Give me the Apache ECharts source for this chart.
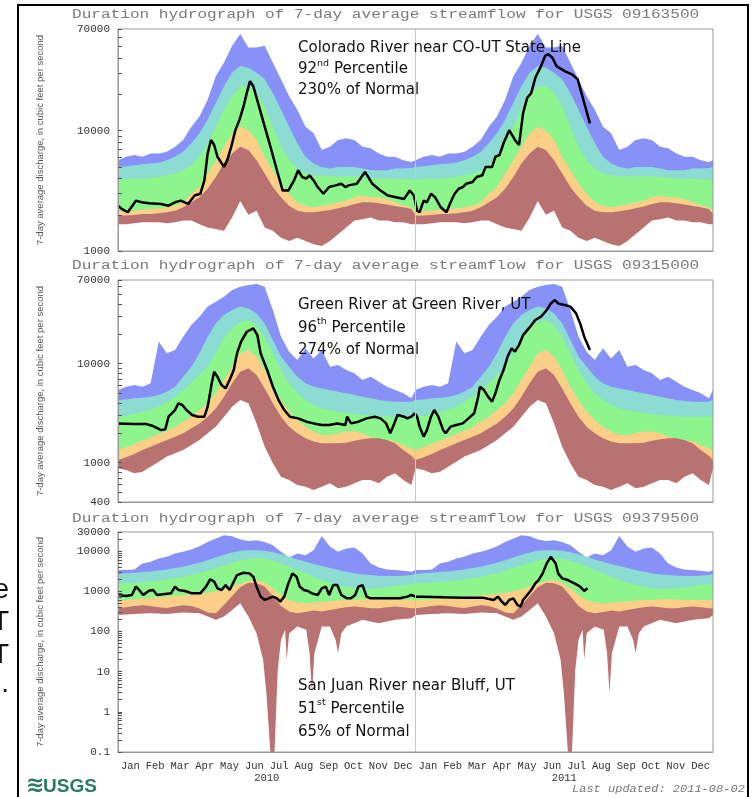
<!DOCTYPE html>
<html>
<head>
<meta charset="utf-8">
<script src="https://cdn.jsdelivr.net/npm/echarts@6/dist/echarts.min.js"></script>
<style>
  html, body { margin: 0; padding: 0; background: #fff; }
  #chart { width: 754px; height: 797px; }
</style>
</head>
<body>
<div id="chart"></div>
<script>
// ---- x axis ----
const months = ["Jan", "Feb", "Mar", "Apr", "May", "Jun", "Jul", "Aug", "Sep", "Oct", "Nov", "Dec"];
const monthLabels = months.concat(months);
const yearLabels = ["2010", "2011"];

// day of year of the daily statistics (they are the same for 2010 and 2011)
const statDays = [0, 10, 20, 30, 40, 50, 60, 70, 80, 90, 100, 110, 120, 130, 140, 150, 160, 170, 180, 190,
  200, 210, 220, 230, 240, 250, 260, 270, 280, 290, 300, 310, 320, 330, 340, 350, 360, 365];

// ---- Colorado River near CO-UT State Line (cfs) ----
const coloradoLabels = [1000, 10000, 70000];
const coloradoMax = [5690, 6070, 6270, 6070, 6470, 6470, 6680, 7360, 8370, 10800, 13100, 18100, 28400, 36700, 50700, 63500, 49100, 49100, 50700, 36700,
  26700, 19300, 14900, 10800, 9500, 6900, 7360, 8370, 8650, 8370, 7360, 7130, 6470, 6070, 6070, 5690, 5500, 5690];
const coloradoP90 = [5000, 5060, 5160, 5260, 5330, 5410, 5690, 6070, 6680, 7850, 9500, 12300, 17000, 23400, 30300, 34400, 33400, 30300, 26700, 20600,
  14900, 10800, 7850, 6070, 5330, 5000, 4840, 5000, 5000, 5000, 4840, 4690, 4690, 4690, 4840, 4840, 4900, 5000];
const coloradoP75 = [3910, 3970, 3990, 3990, 4070, 4120, 4260, 4400, 4690, 5160, 6070, 7850, 10800, 14900, 19300, 23400, 23400, 20600, 15900, 10800,
  7360, 5690, 4840, 4400, 4260, 4180, 4180, 4180, 4180, 4180, 4120, 4070, 4020, 3990, 3970, 3940, 3910, 3910];
const coloradoP25 = [2160, 2160, 2160, 2210, 2230, 2270, 2310, 2380, 2540, 2990, 3400, 4400, 5690, 7360, 9500, 10800, 10150, 8370, 6070, 4690,
  3620, 2990, 2540, 2380, 2310, 2380, 2460, 2540, 2620, 2800, 2890, 2800, 2800, 2710, 2540, 2400, 2300, 2200];
const coloradoP10 = [1970, 1970, 1990, 2030, 2030, 2060, 2100, 2160, 2310, 2540, 2800, 3290, 4120, 5330, 6470, 7360, 6900, 5690, 4400, 3400,
  2800, 2380, 2160, 2100, 2100, 2140, 2190, 2270, 2340, 2460, 2540, 2540, 2490, 2430, 2370, 2310, 2230, 2030];
const coloradoMin = [1670, 1670, 1700, 1730, 1730, 1730, 1700, 1730, 1790, 1790, 1670, 1570, 1520, 1470, 1900, 2600, 2000, 2160, 1570, 1470,
  1290, 1210, 1290, 1210, 1140, 1100, 1210, 1380, 1570, 1790, 1840, 1900, 1790, 1790, 1730, 1730, 1670, 1670];
// days since 2010-01-01
const coloradoDays = [0, 5, 12, 22, 29, 38, 53, 62, 70, 77, 86, 94, 101, 106, 110, 114, 118, 122, 130, 134,
  139, 144, 149, 154, 158, 162, 166, 173, 180, 187, 195, 202, 209, 216, 221, 226, 231, 235, 240, 245,
  252, 259, 267, 274, 279, 283, 293, 303, 307, 312, 322, 331, 341, 351, 358, 363, 367, 370, 375, 379,
  384, 389, 396, 403, 408, 413, 418, 423, 427, 435, 440, 447, 451, 459, 463, 468, 473, 480, 487, 492,
  497, 502, 507, 512, 519, 524, 528, 533, 538, 548, 557, 564, 572, 579];
const coloradoFlow = [2380, 2230, 2100, 2620, 2540, 2490, 2460, 2380, 2540, 2620, 2460, 2890, 2990, 3860, 6470, 8370, 7600, 6070, 5000, 5690,
  7360, 10100, 12300, 15900, 20600, 25800, 23400, 15900, 10800, 7360, 4690, 3180, 3180, 3860, 4690, 4120, 3990, 4260, 3860, 3400,
  2990, 3400, 3510, 3620, 3400, 3510, 3620, 4540, 4120, 3620, 3180, 2890, 2800, 2710, 3180, 2890, 2160, 2100, 2620, 2540,
  2990, 2800, 2310, 2100, 2540, 2990, 3290, 3400, 3620, 3740, 4120, 4260, 5000, 5000, 6070, 6270, 7850, 10100, 8370, 7600,
  14000, 18700, 20600, 27500, 34400, 41800, 43200, 40400, 34400, 31300, 29400, 26700, 17000, 11500];

// ---- Green River at Green River, UT (cfs) ----
const greenLabels = [400, 1000, 10000, 70000];
const greenMax = [5410, 5850, 6080, 5850, 6320, 16700, 12700, 13700, 18700, 24500, 29800, 37700, 42300, 47500, 55400, 59900, 62300, 63800, 59900, 34800,
  18700, 13200, 10900, 14300, 11300, 13700, 9310, 9680, 8620, 7980, 6840, 7380, 6580, 5850, 5410, 5010, 4460, 5410];
const greenP90 = [4290, 4350, 4460, 4530, 4640, 4820, 5210, 5850, 7380, 9310, 12700, 18700, 25500, 31000, 34800, 37700, 36200, 32200, 25500, 17300,
  11800, 9310, 7380, 6320, 5850, 5620, 5410, 5210, 5010, 4820, 4640, 4460, 4290, 4190, 4130, 4130, 4130, 4290];
const greenP75 = [2910, 2960, 3100, 3270, 3450, 3670, 4130, 4640, 5410, 6320, 7670, 9310, 12700, 18000, 22700, 26500, 27600, 24500, 18700, 12700,
  8620, 6320, 5010, 4290, 3820, 3530, 3400, 3270, 3150, 3100, 3030, 2990, 2960, 2910, 2910, 2910, 2910, 2910];
const greenP25 = [1340, 1430, 1540, 1670, 1800, 1950, 2100, 2310, 2590, 2910, 3400, 3970, 5010, 6840, 9310, 12700, 13700, 11800, 8620, 5850,
  4290, 3270, 2690, 2310, 2060, 1900, 1900, 1980, 2060, 2060, 1980, 1830, 1760, 1690, 1630, 1510, 1390, 1340];
const greenP10 = [1060, 1130, 1220, 1340, 1450, 1570, 1690, 1830, 1980, 2220, 2490, 2910, 3530, 4640, 6320, 8300, 8960, 7670, 5620, 3970,
  2910, 2310, 1980, 1760, 1630, 1570, 1570, 1570, 1590, 1660, 1720, 1760, 1760, 1690, 1570, 1340, 1170, 1060];
const greenMin = [875, 842, 780, 809, 910, 1020, 1150, 1240, 1340, 1510, 1690, 1980, 2310, 2910, 3670, 4290, 3970, 2490, 1450, 984,
  721, 667, 594, 571, 529, 571, 618, 550, 571, 618, 667, 667, 618, 721, 780, 667, 594, 875];
const greenDays = [0, 19, 34, 43, 53, 58, 62, 70, 74, 79, 84, 91, 98, 106, 110, 115, 118, 122, 127, 132,
  137, 142, 146, 151, 158, 166, 171, 175, 183, 190, 197, 204, 211, 221, 231, 240, 250, 259, 269, 279,
  281, 286, 295, 305, 315, 322, 329, 334, 339, 343, 351, 355, 360, 364, 367, 370, 375, 379, 384, 388,
  393, 399, 402, 408, 415, 423, 430, 437, 442, 444, 449, 454, 459, 463, 468, 473, 478, 483, 487, 492,
  497, 504, 512, 519, 526, 531, 536, 540, 548, 555, 562, 567, 572, 579];
const greenFlow = [2490, 2460, 2460, 2340, 2130, 2170, 2910, 3400, 3970, 3820, 3400, 3030, 2910, 2910, 3670, 6320, 8300, 7380, 6080, 5620,
  6840, 8620, 12700, 16700, 21000, 22700, 19400, 12700, 8620, 5850, 4290, 3400, 2910, 2800, 2590, 2490, 2400, 2400, 2490, 2400,
  2910, 2490, 2590, 2800, 2910, 2800, 2490, 1980, 2490, 3030, 2910, 2800, 2910, 3150, 2910, 2310, 1830, 2130, 2910, 3400,
  2910, 2130, 1980, 2310, 2400, 2490, 2800, 3150, 4640, 5850, 5410, 4640, 4130, 5010, 6840, 8620, 11800, 14300, 13200, 15400,
  19400, 22700, 27600, 29800, 34800, 40600, 43900, 40600, 39100, 37700, 32200, 25500, 18700, 13700];

// ---- San Juan River near Bluff, UT (cfs) ----
const sanJuanLabels = [0.1, 1, 10, 100, 1000, 10000, 30000];
const sanJuanMax = [3380, 3380, 3510, 4950, 5450, 6580, 7240, 8750, 9620, 11000, 13300, 17000, 20600, 24900, 23500, 19500, 18000, 18700, 17000, 14100,
  9620, 6970, 8750, 7960, 10600, 24000, 13000, 9620, 11600, 12300, 8750, 4950, 3940, 3510, 3380, 3250, 3070, 3380];
const sanJuanP90 = [2690, 2800, 2900, 3010, 3130, 3320, 3510, 3790, 4090, 4580, 5140, 5980, 6970, 8110, 9270, 10200, 10600, 10600, 10200, 9440,
  8430, 7240, 6210, 5450, 4770, 4250, 3790, 3380, 3070, 2800, 2640, 2540, 2450, 2400, 2400, 2450, 2540, 2690];
const sanJuanP75 = [1580, 1610, 1640, 1700, 1770, 1870, 1990, 2140, 2310, 2540, 2800, 3250, 3790, 4420, 5140, 5880, 6460, 6700, 6460, 5760,
  4950, 4090, 3380, 2800, 2310, 1910, 1640, 1430, 1310, 1210, 1160, 1160, 1210, 1260, 1360, 1430, 1520, 1580];
const sanJuanP25 = [610, 610, 633, 658, 684, 710, 738, 766, 796, 827, 859, 927, 1000, 1120, 1310, 1520, 1840, 1910, 1640, 1190,
  811, 610, 524, 504, 524, 544, 565, 587, 610, 610, 633, 633, 633, 610, 610, 610, 610, 610];
const sanJuanP10 = [379, 401, 433, 450, 433, 401, 387, 417, 450, 433, 372, 296, 285, 458, 766, 1260, 1640, 1580, 1310, 766,
  433, 313, 285, 307, 332, 313, 344, 372, 401, 417, 401, 379, 379, 401, 417, 401, 379, 379];
const sanJuanMinDays = [0, 20, 40, 60, 80, 100, 110, 120, 130, 140, 150, 160, 170, 178, 182, 187, 192, 196, 200, 205,
  207, 210, 220, 231, 235, 238, 241, 250, 260, 267, 270, 274, 280, 300, 320, 340, 360, 365];
const sanJuanMin = [259, 274, 285, 274, 296, 285, 235, 195, 235, 344, 504, 235, 91, 20, 3, 0.1, 0.1, 11, 62, 110,
  20, 91, 133, 110, 29, 3, 29, 133, 133, 62, 29, 91, 133, 195, 161, 195, 214, 259];
const sanJuanDays = [0, 10, 17, 22, 26, 31, 38, 43, 48, 58, 65, 70, 74, 82, 91, 101, 108, 113, 118, 122,
  127, 132, 137, 142, 146, 154, 161, 166, 170, 175, 180, 185, 190, 195, 199, 204, 209, 214, 219, 223,
  228, 233, 238, 245, 250, 255, 259, 264, 269, 274, 281, 286, 291, 295, 300, 305, 310, 327, 346, 355,
  360, 365, 375, 399, 423, 447, 461, 466, 471, 475, 480, 485, 490, 494, 497, 502, 507, 512, 516, 521,
  526, 531, 533, 537, 540, 545, 552, 560, 567, 572, 576];
const sanJuanFlow = [811, 766, 811, 1310, 1080, 811, 1040, 1080, 811, 859, 892, 1310, 1080, 1020, 892, 892, 1310, 1990, 1740, 1190,
  1080, 1430, 1080, 1740, 2540, 2900, 2800, 2310, 1310, 738, 610, 670, 738, 670, 555, 738, 1580, 2800, 2310, 1310,
  1080, 1020, 892, 811, 1190, 1310, 811, 1430, 1430, 811, 670, 670, 811, 1310, 1430, 738, 670, 670, 670, 738,
  811, 738, 738, 710, 697, 697, 610, 738, 555, 458, 610, 670, 458, 417, 610, 811, 1080, 1580, 1910, 2800,
  4950, 7240, 7240, 4950, 2800, 2100, 1910, 1580, 1310, 1020, 1190];

// max, 90th, 75th, 25th, 10th percentile, min
const bandColors = ["#8891f8", "#8cdcd4", "#8cf58c", "#fccf88", "#b97272", "#ffffff"];
const monoFont = '"Liberation Mono", "DejaVu Sans Mono", monospace';

const panels = [
  {
    top: 29, height: 222, min: 1000, max: 70000, labels: coloradoLabels,
    station: "09163500", titleY: 15,
    bands: [coloradoMax, coloradoP90, coloradoP75, coloradoP25, coloradoP10, coloradoMin], minDays: statDays,
    flowDays: coloradoDays, flow: coloradoFlow,
    note: "Colorado River near CO-UT State Line\n92{s|nd} Percentile\n230% of Normal", noteY: 38, noteLH: 21,
  },
  {
    top: 280, height: 222, min: 400, max: 70000, labels: greenLabels,
    station: "09315000", titleY: 266,
    bands: [greenMax, greenP90, greenP75, greenP25, greenP10, greenMin], minDays: statDays,
    flowDays: greenDays, flow: greenFlow,
    note: "Green River at Green River, UT\n96{s|th} Percentile\n274% of Normal", noteY: 294, noteLH: 22.5,
  },
  {
    top: 532, height: 220, min: 0.1, max: 30000, labels: sanJuanLabels,
    station: "09379500", titleY: 519,
    bands: [sanJuanMax, sanJuanP90, sanJuanP75, sanJuanP25, sanJuanP10, sanJuanMin], minDays: sanJuanMinDays,
    flowDays: sanJuanDays, flow: sanJuanFlow,
    note: "San Juan River near Bluff, UT\n51{s|st} Percentile\n65% of Normal", noteY: 675, noteLH: 23,
  },
];

// statistics repeat each year: put them on 2010 and 2011
function twoYears(days, values) {
  const pts = [];
  [0, 365].forEach((off) => {
    days.forEach((d, i) => {
      if (off === 0 && d === 365) return;
      pts.push([d + off, values[i]]);
    });
  });
  return pts;
}

// minor ticks 1..9 per decade
function logTicks(lo, hi) {
  const t = [];
  for (let e = -1; e <= 4; e++) {
    for (let m = 1; m <= 9; m++) {
      const v = +(m * Math.pow(10, e)).toPrecision(3);
      if (v >= lo && v <= hi) t.push(v);
    }
  }
  return t;
}

const grid = [];
const xAxis = [];
const yAxis = [];
const series = [];
const graphic = [
  {
    type: "rect", silent: true,
    shape: { x: 18, y: 5, width: 730, height: 830 },
    style: { fill: "none", stroke: "#000", lineWidth: 2 },
  },
];

panels.forEach((p, i) => {
  grid.push({
    left: 118, top: p.top, width: 595, height: p.height,
    show: true, borderColor: "#999", borderWidth: 1, backgroundColor: "transparent", z: 10,
  });

  const dataAxis = xAxis.length;
  xAxis.push({ type: "value", gridIndex: i, min: 0, max: 730, show: false, position: "bottom" });
  xAxis.push({
    type: "category", gridIndex: i, data: monthLabels, boundaryGap: true, position: "bottom", z: 11,
    axisLine: { lineStyle: { color: "#999" } },
    axisTick: { inside: true, length: 4, interval: 0, lineStyle: { color: "#555" } },
    axisLabel: { show: i === 2, interval: 0, margin: 9, fontFamily: monoFont, fontSize: 10.5, color: "#333" },
  });
  if (i === 2) {
    xAxis.push({
      type: "category", gridIndex: i, data: yearLabels, position: "bottom",
      axisLine: { show: false }, axisTick: { show: false },
      axisLabel: { interval: 0, margin: 21, fontFamily: monoFont, fontSize: 10.5, color: "#333" },
    });
  }

  yAxis.push({
    type: "log", gridIndex: i, logBase: 10, min: p.min, max: p.max, z: 11,
    name: "7-day average discharge, in cubic feet per second",
    nameLocation: "middle", nameGap: 73, nameRotate: 90,
    nameTextStyle: { fontFamily: "Liberation Sans", fontSize: 9.5, color: "#555" },
    axisLine: { show: true, lineStyle: { color: "#999" } },
    axisTick: { show: true, inside: true, length: 4, customValues: logTicks(p.min, p.max), lineStyle: { color: "#555" } },
    axisLabel: {
      customValues: p.labels, margin: 8, fontFamily: monoFont, fontSize: 11, color: "#333",
      formatter: (v) => String(+(+v).toPrecision(6)),
    },
    splitLine: { show: false },
  });

  p.bands.forEach((vals, k) => {
    const s = {
      type: "line", xAxisIndex: dataAxis, yAxisIndex: i,
      data: twoYears(k === 5 ? p.minDays : statDays, vals),
      symbol: "none", silent: true,
      lineStyle: { width: 0, opacity: 0 },
      areaStyle: { color: bandColors[k], opacity: 1, origin: "start" },
    };
    if (k === 5) {
      // 2010 | 2011 separator
      s.markLine = {
        silent: true, symbol: "none", label: { show: false },
        lineStyle: { color: "#c8c8c8", width: 1, type: "solid" },
        data: [{ xAxis: 365 }],
      };
    }
    series.push(s);
  });

  series.push({
    type: "line", xAxisIndex: dataAxis, yAxisIndex: i, z: 4,
    data: p.flowDays.map((d, j) => [d, p.flow[j]]),
    symbol: "none", silent: true,
    lineStyle: { color: "#000", width: 2.5 },
  });

  graphic.push({
    type: "text", x: 72, y: p.titleY, scaleX: 1.34, silent: true,
    style: {
      text: "Duration hydrograph of 7-day average streamflow for USGS " + p.station,
      font: "12px " + monoFont, fill: "#7a7a7a",
      textVerticalAlign: "middle", verticalAlign: "middle",
    },
  });
  graphic.push({
    type: "text", x: 298, y: p.noteY, z: 20, silent: true,
    style: {
      text: p.note, font: '15px "DejaVu Sans"', fill: "#111", lineHeight: p.noteLH,
      textVerticalAlign: "top", verticalAlign: "top",
      rich: { s: { fontSize: 9.5, fontFamily: "DejaVu Sans", fill: "#111", verticalAlign: "top", lineHeight: 12 } },
    },
  });
});

// footer
graphic.push(
  {
    type: "text", x: 572, y: 789, scaleX: 1.2, silent: true,
    style: { text: "Last updated: 2011-08-02", font: "italic 10px " + monoFont, fill: "#777", verticalAlign: "middle", textVerticalAlign: "middle" },
  },
  {
    type: "text", x: 26, y: 786, silent: true,
    style: { text: "\u224B", font: 'bold 22px "DejaVu Sans"', fill: "#2a7d5c", verticalAlign: "middle", textVerticalAlign: "middle" },
  },
  {
    type: "text", x: 43, y: 787, silent: true,
    style: { text: "USGS", font: 'bold 19px "Liberation Sans"', fill: "#2a7d5c", verticalAlign: "middle", textVerticalAlign: "middle" },
  }
);

// slide text cut off at the left edge
[["e", 590], ["T", 622], ["T", 655], [".", 684]].forEach((t) => {
  graphic.push({
    type: "text", x: 9, y: t[1], silent: true,
    style: {
      text: t[0], font: '28px "Liberation Sans"', fill: "#111",
      align: "right", textAlign: "right", verticalAlign: "middle", textVerticalAlign: "middle",
    },
  });
});

const myChart = echarts.init(document.getElementById("chart"));
let option = {
  animation: false,
  backgroundColor: "#fff",
  grid: grid,
  xAxis: xAxis,
  yAxis: yAxis,
  series: series,
  graphic: graphic,
};
option && myChart.setOption(option);
</script>
</body>
</html>
